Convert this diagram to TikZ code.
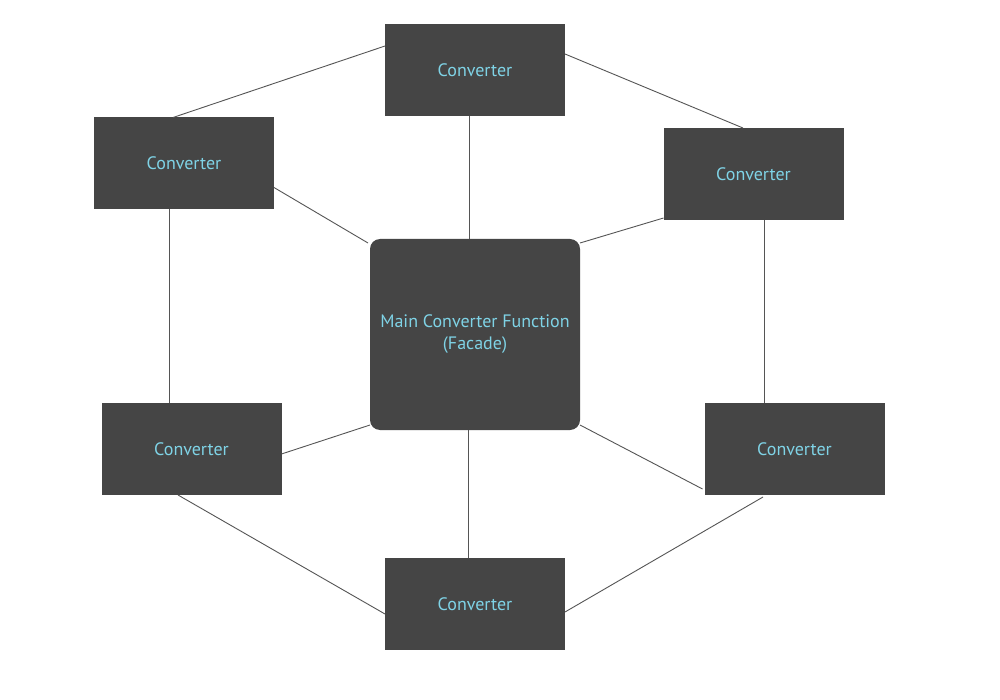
\documentclass[tikz,border=0pt]{standalone}
\usepackage{fontspec}
\setmainfont{PT Sans}
\begin{document}
\begin{tikzpicture}[x=1pt,y=-1pt,
  box/.style={fill=boxgray,draw=none,minimum width=180pt,minimum height=92pt,inner sep=0pt,outer sep=0pt,text=txtcyan,font=\fontsize{18}{22}\selectfont,align=center},
  mainbox/.style={box,minimum width=210pt,minimum height=191pt,rounded corners=10pt},
  link/.style={draw=linegray,line width=0.9pt}]
\definecolor{boxgray}{HTML}{454545}
\definecolor{txtcyan}{HTML}{7FD3E6}
\definecolor{linegray}{HTML}{555555}
\useasboundingbox[fill=white] (0,0) rectangle (1000,700);
\node[box] (top) at (475,70) {Converter};
\node[box] (tl) at (184,163.5) {Converter};
\node[box] (tr) at (753.5,174) {Converter};
\node[box] (bl) at (191.5,449) {Converter};
\node[box] (br) at (794.5,449) {Converter};
\node[box] (bot) at (475,604) {Converter};
\node[mainbox] (main) at (475,334.5) {Main Converter Function\\(Facade)};
\draw[link] ([yshift=-22pt]top.north west) -- ([xshift=-11pt]tl.north);
\draw[link] ([yshift=-30pt]top.north east) -- ([xshift=-10.5pt]tr.north);
\draw[link] ([xshift=-6pt]top.south) -- ([xshift=-6pt]main.north);
\draw[link] ([yshift=22pt]tl.south east) -- ([xshift=-2pt,yshift=-4pt]main.north west);
\draw[link] ([xshift=-15pt]tl.south) -- ([xshift=-22.5pt]bl.north);
\draw[link] ([yshift=2pt]tr.south west) -- ([yshift=-4pt]main.north east);
\draw[link] ([xshift=10.5pt]tr.south) -- ([xshift=-30.5pt]br.north);
\draw[link] ([yshift=-51pt]bl.north east) -- ([yshift=5pt]main.south west);
\draw[link] ([xshift=-13.5pt]bl.south) -- ([yshift=-56pt]bot.north west);
\draw[link] ([xshift=-2pt,yshift=6pt]br.south west) -- ([yshift=5pt]main.south east);
\draw[link] ([xshift=-31.5pt,yshift=-2pt]br.south) -- ([yshift=-54pt]bot.north east);
\draw[link] ([xshift=-7pt]main.south) -- ([xshift=-7pt]bot.north);
\end{tikzpicture}
\end{document}
